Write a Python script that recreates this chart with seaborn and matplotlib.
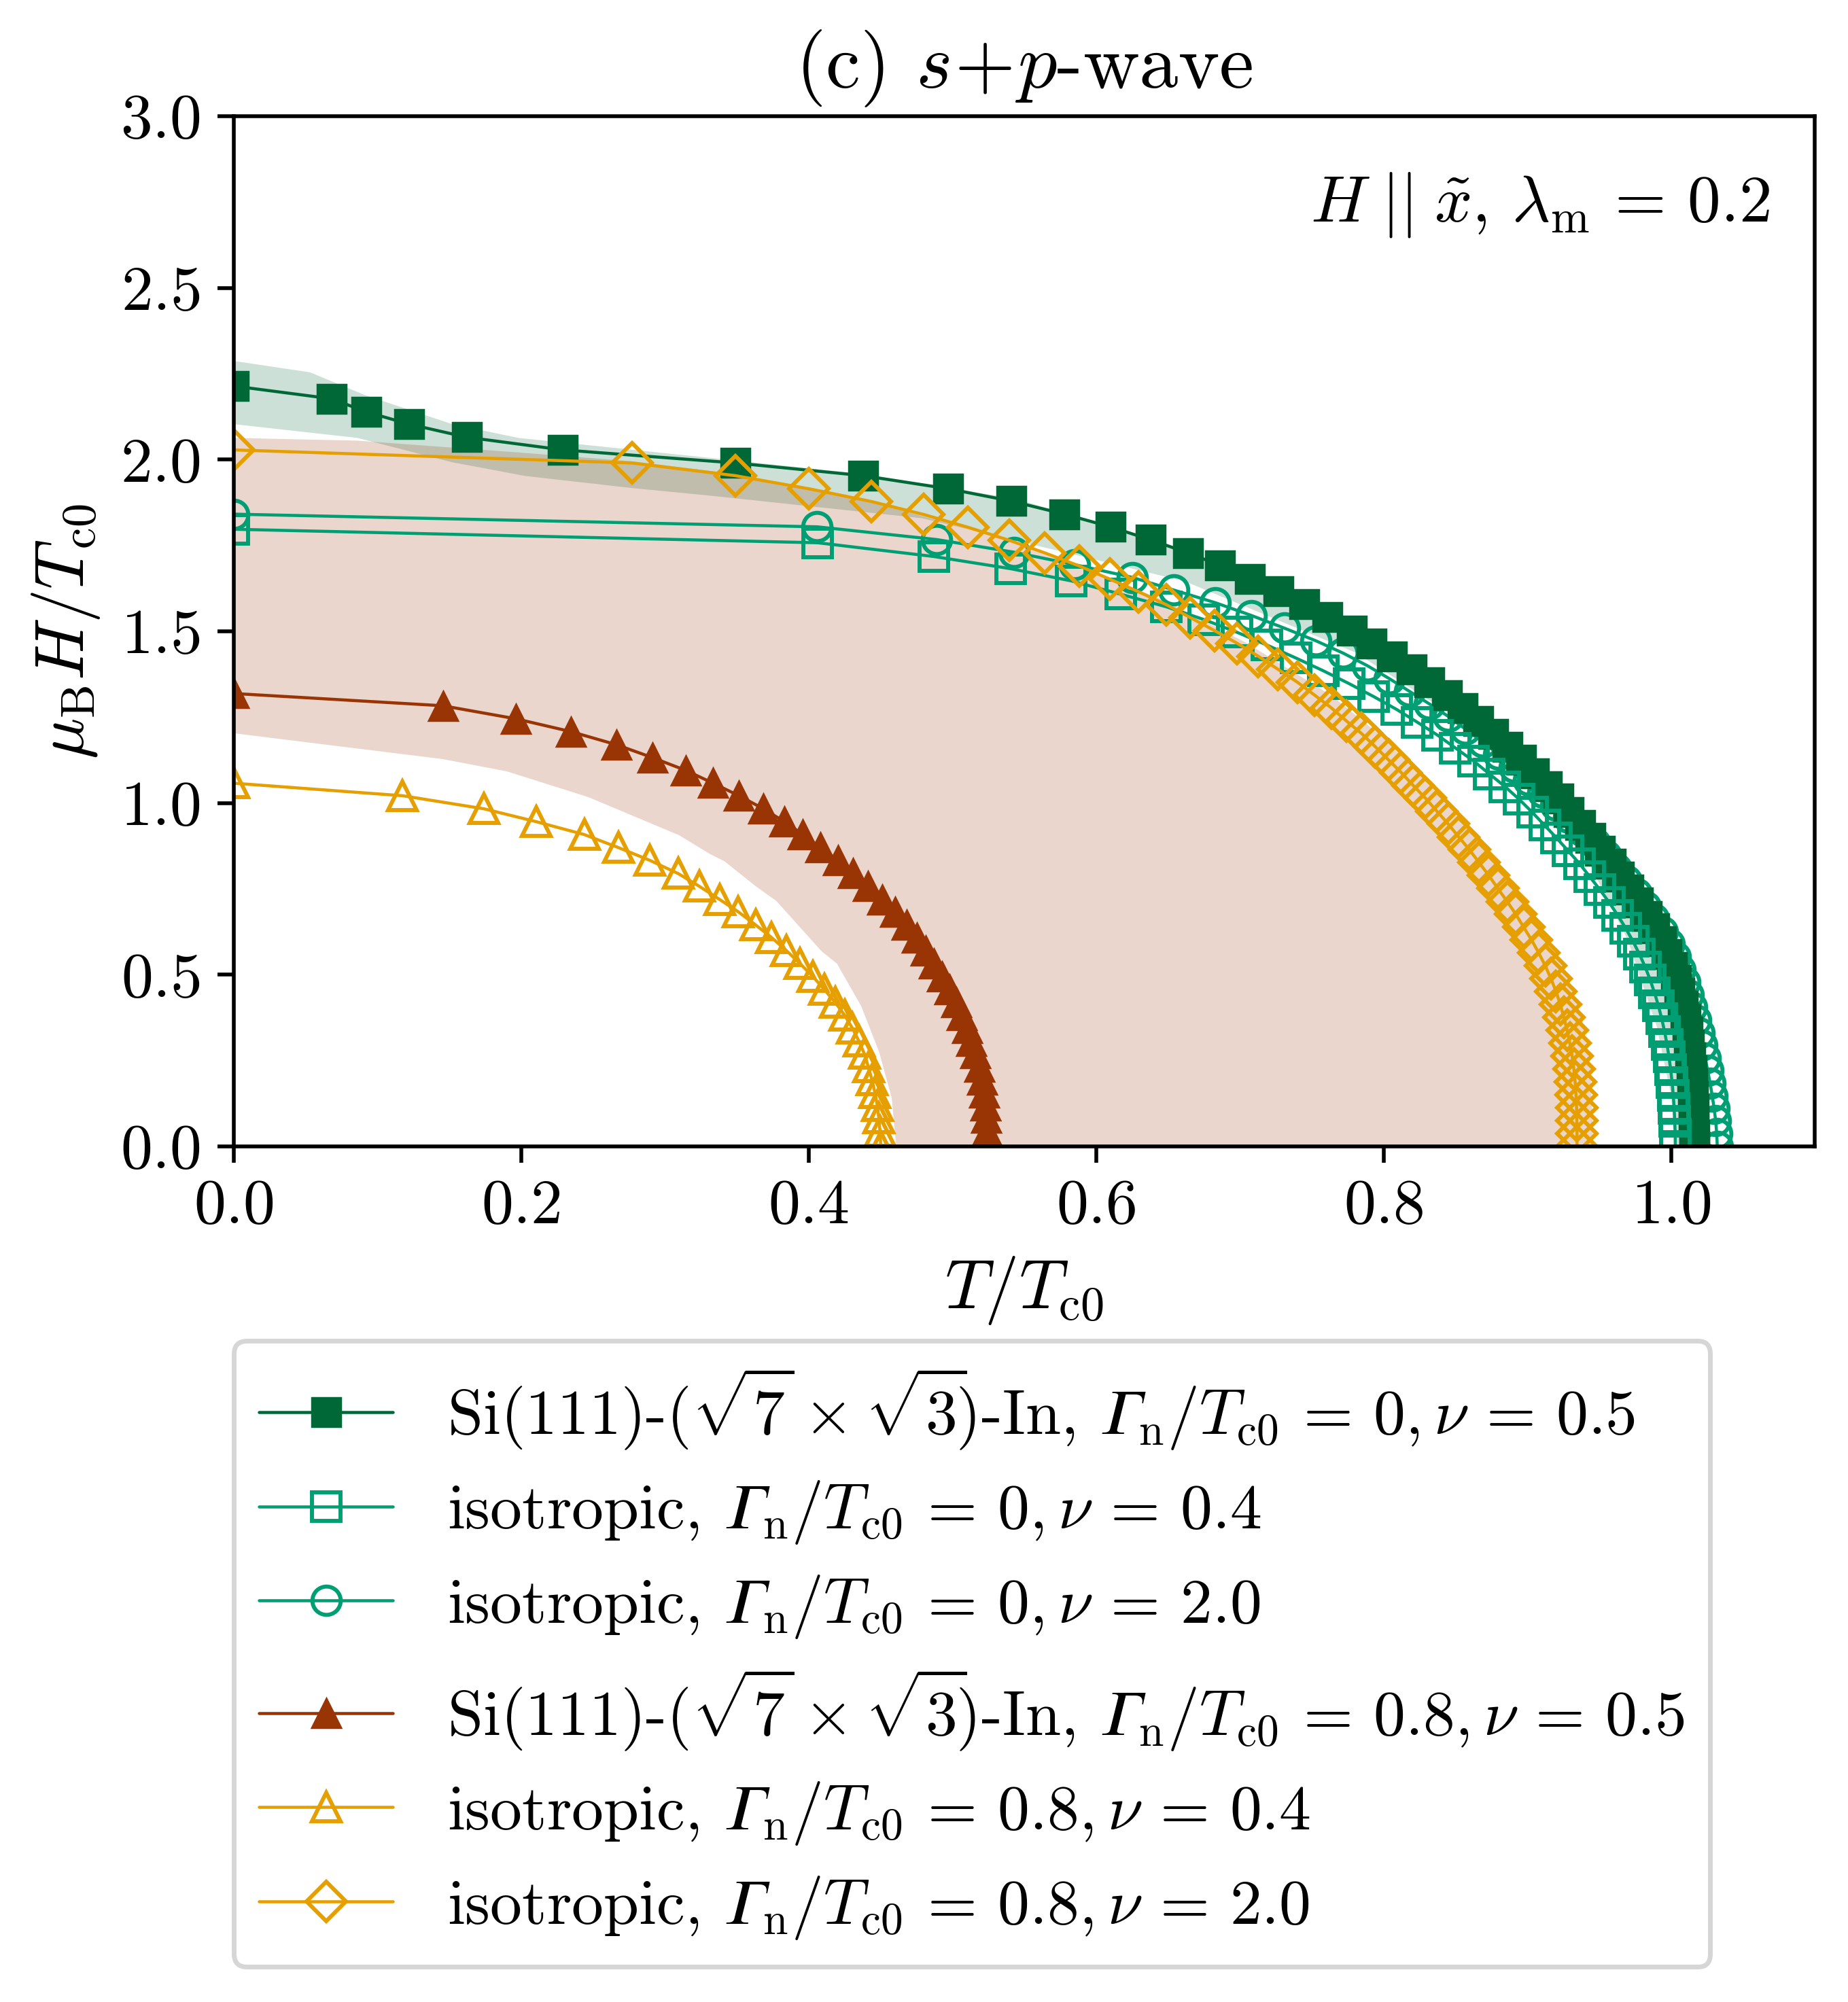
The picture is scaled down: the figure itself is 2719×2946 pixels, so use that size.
import matplotlib
matplotlib.use("Agg")
import matplotlib.pyplot as plt
import seaborn as sns

# ---------------- data ----------------
# Si(111)-(sqrt7 x sqrt3)-In, Gamma_n/Tc0 = 0, nu = 0.5
H_si0 = [2.214, 2.177, 2.139, 2.103, 2.065, 2.028, 1.990, 1.953, 1.915, 1.879,
         1.841, 1.804, 1.766, 1.728, 1.692, 1.653, 1.616, 1.578, 1.541, 1.502,
         1.465, 1.427, 1.389, 1.351, 1.314, 1.276, 1.238, 1.200, 1.163, 1.125,
         1.087, 1.049, 1.012, 0.974, 0.936, 0.898, 0.861, 0.823, 0.785, 0.747,
         0.710, 0.671, 0.634, 0.597, 0.559, 0.522, 0.484, 0.447, 0.409, 0.372,
         0.334, 0.297, 0.259, 0.222, 0.184, 0.147, 0.109, 0.072, 0.034, 0.0]
T_si0 = [0.0, 0.068, 0.092, 0.122, 0.162, 0.229, 0.349, 0.438, 0.497, 0.541,
         0.578, 0.610, 0.638, 0.664, 0.686, 0.707, 0.727, 0.745, 0.761, 0.778,
         0.7915, 0.806, 0.8195, 0.832, 0.844, 0.855, 0.866, 0.8765, 0.886, 0.8956,
         0.9047, 0.9135, 0.9216, 0.929, 0.937, 0.944, 0.9505, 0.958, 0.964, 0.9706,
         0.977, 0.983, 0.9885, 0.993, 0.997, 1.0005, 1.0035, 1.006, 1.0082, 1.010,
         1.0115, 1.0127, 1.0136, 1.0143, 1.0150, 1.0155, 1.0158, 1.0160, 1.0161, 1.0161]

# isotropic, Gamma_n/Tc0 = 0, nu = 0.4
H_iso0_04 = [1.797, 1.7576, 1.7175, 1.682, 1.6465, 1.608, 1.571, 1.534, 1.497, 1.4595,
             1.422, 1.385, 1.3475, 1.31, 1.2725, 1.235, 1.1975, 1.16, 1.1225, 1.085,
             1.0475, 1.01, 0.9725, 0.935, 0.8975, 0.86, 0.8225, 0.785, 0.7475, 0.71,
             0.6725, 0.635, 0.5975, 0.56, 0.5225, 0.485, 0.4475, 0.41, 0.3725, 0.335,
             0.2975, 0.26, 0.2225, 0.185, 0.1475, 0.11, 0.0725, 0.035, 0.0]
T_iso0_04 = [0.0, 0.4064, 0.4873, 0.5407, 0.5828, 0.617, 0.649, 0.675, 0.698, 0.719,
             0.739, 0.758, 0.776, 0.793, 0.809, 0.8235, 0.8375, 0.850, 0.8625, 0.8735,
             0.8845, 0.8945, 0.9035, 0.912, 0.9205, 0.9285, 0.9365, 0.9435, 0.9505, 0.957,
             0.963, 0.9685, 0.9735, 0.978, 0.982, 0.9855, 0.9885, 0.9912, 0.9935, 0.9955,
             0.9972, 0.9986, 0.9998, 1.0008, 1.0016, 1.0022, 1.0026, 1.0029, 1.003]

# isotropic, Gamma_n/Tc0 = 0, nu = 2.0
H_iso0_20 = [1.841, 1.804, 1.767, 1.730, 1.694, 1.657, 1.620, 1.583, 1.546, 1.509,
             1.472, 1.436, 1.399, 1.362, 1.325, 1.288, 1.252, 1.215, 1.178, 1.141,
             1.104, 1.067, 1.030, 0.994, 0.957, 0.920, 0.883, 0.846, 0.810, 0.773,
             0.736, 0.699, 0.662, 0.626, 0.589, 0.552, 0.515, 0.478, 0.442, 0.405,
             0.368, 0.331, 0.294, 0.258, 0.221, 0.184, 0.147, 0.110, 0.074, 0.037, 0.0]
T_iso0_20 = [0.0, 0.406, 0.489, 0.543, 0.585, 0.625, 0.654, 0.683, 0.708, 0.731,
             0.753, 0.772, 0.789, 0.804, 0.818, 0.832, 0.845, 0.857, 0.869, 0.880,
             0.891, 0.901, 0.911, 0.920, 0.929, 0.938, 0.947, 0.955, 0.962, 0.969,
             0.976, 0.982, 0.988, 0.994, 0.999, 1.003, 1.0065, 1.0095, 1.012, 1.0145,
             1.017, 1.0195, 1.0217, 1.0237, 1.0255, 1.0272, 1.0287, 1.0300, 1.0311, 1.0318, 1.0322]

# Si(111)-(sqrt7 x sqrt3)-In, Gamma_n/Tc0 = 0.8, nu = 0.5
H_si08 = [1.3187, 1.283, 1.245, 1.2076, 1.1694, 1.132, 1.0948, 1.0575, 1.021, 0.983,
          0.9455, 0.908, 0.870, 0.8326, 0.7944, 0.757, 0.719, 0.683, 0.645, 0.608,
          0.570, 0.532, 0.495, 0.457, 0.419, 0.382, 0.345, 0.307, 0.270, 0.232,
          0.194, 0.157, 0.119, 0.082, 0.044, 0.0]
T_si08 = [0.0, 0.1455, 0.1963, 0.2347, 0.2664, 0.2913, 0.3145, 0.3335, 0.3515, 0.3685,
          0.3830, 0.3960, 0.4082, 0.4205, 0.4310, 0.4410, 0.4510, 0.4600, 0.4683, 0.4753,
          0.4814, 0.4873, 0.4926, 0.4979, 0.5025, 0.5067, 0.5101, 0.5130, 0.5158, 0.5186,
          0.5207, 0.5222, 0.5232, 0.5236, 0.5240, 0.5241]

# isotropic, Gamma_n/Tc0 = 0.8, nu = 0.4
H_iso08_04 = [1.0575, 1.021, 0.983, 0.9455, 0.908, 0.870, 0.8326, 0.7944, 0.757, 0.719,
              0.683, 0.645, 0.608, 0.570, 0.532, 0.495, 0.457, 0.419, 0.382, 0.345,
              0.307, 0.270, 0.232, 0.194, 0.157, 0.119, 0.082, 0.044, 0.0]
T_iso08_04 = [0.0, 0.1175, 0.1740, 0.2104, 0.2438, 0.2676, 0.2896, 0.3092, 0.3240, 0.3380,
              0.3510, 0.3630, 0.3742, 0.3845, 0.3940, 0.4028, 0.4108, 0.4185, 0.4250, 0.4303,
              0.4349, 0.4387, 0.4415, 0.4440, 0.4461, 0.4478, 0.4488, 0.4496, 0.4502]

# isotropic, Gamma_n/Tc0 = 0.8, nu = 2.0
H_iso08_20 = [2.028, 1.990, 1.953, 1.915, 1.878, 1.840, 1.803, 1.765, 1.728, 1.690,
              1.652, 1.615, 1.577, 1.540, 1.502, 1.465, 1.427, 1.389, 1.352, 1.314,
              1.277, 1.239, 1.202, 1.164, 1.126, 1.089, 1.051, 1.014, 0.976, 0.939,
              0.901, 0.864, 0.826, 0.789, 0.751, 0.713, 0.676, 0.638, 0.601, 0.563,
              0.526, 0.488, 0.451, 0.413, 0.375, 0.338, 0.300, 0.263, 0.225, 0.188,
              0.150, 0.113, 0.075, 0.038, 0.0]
T_iso08_20 = [0.0, 0.277, 0.349, 0.400, 0.4434, 0.480, 0.5106, 0.5395, 0.5644, 0.5883,
              0.6094, 0.6295, 0.649, 0.6654, 0.6823, 0.6981, 0.7129, 0.7266, 0.7399, 0.752,
              0.7636, 0.7741, 0.7847, 0.7942, 0.8033, 0.8122, 0.8206, 0.8291, 0.8371, 0.8449,
              0.8523, 0.8597, 0.8665, 0.8732, 0.8795, 0.886, 0.892, 0.8975, 0.903, 0.908,
              0.9125, 0.9165, 0.920, 0.923, 0.9255, 0.9277, 0.9296, 0.9312, 0.9324, 0.9333,
              0.9339, 0.9343, 0.9345, 0.9346, 0.9346]

# shaded bands (outer edge and inner edge, (T, H))
band_green_outer_T = [0.000, 0.053, 0.091, 0.152, 0.198, 0.331, 0.440, 0.545, 0.663, 0.745,
                      0.810, 0.860, 0.905, 0.937, 0.960, 0.976, 0.992, 1.006, 1.016, 1.021, 1.022]
band_green_outer_H = [2.287, 2.254, 2.188, 2.103, 2.063, 2.005, 1.957, 1.885, 1.735, 1.585,
                      1.430, 1.280, 1.120, 0.985, 0.870, 0.780, 0.674, 0.500, 0.300, 0.120, 0.000]
band_green_inner_T = [0.000, 0.086, 0.152, 0.203, 0.277, 0.331, 0.479, 0.542, 0.595, 0.662,
                      0.7805, 0.850, 0.905, 0.940, 0.970, 0.990, 1.000, 1.003]
band_green_inner_H = [2.103, 2.063, 1.992, 1.952, 1.917, 1.895, 1.829, 1.766, 1.713, 1.645,
                      1.438, 1.250, 1.050, 0.850, 0.600, 0.350, 0.150, 0.000]

band_brown_outer_T = [0.000, 0.086, 0.200, 0.277, 0.349, 0.440, 0.540, 0.595, 0.650, 0.705,
                      0.764, 0.797, 0.824, 0.849, 0.872, 0.892, 0.910, 0.925, 0.938, 0.944, 0.946]
band_brown_outer_H = [2.063, 2.055, 2.020, 1.995, 1.958, 1.880, 1.765, 1.680, 1.585, 1.465,
                      1.312, 1.200, 1.087, 0.975, 0.862, 0.753, 0.640, 0.527, 0.376, 0.226, 0.000]
band_brown_inner_T = [0.000, 0.1455, 0.190, 0.247, 0.310, 0.331, 0.3415, 0.3627, 0.3775, 0.409,
                      0.4197, 0.4366, 0.449, 0.4578, 0.4609]
band_brown_inner_H = [1.203, 1.1276, 1.092, 1.0165, 0.9057, 0.852, 0.830, 0.759, 0.7146, 0.568,
                      0.532, 0.408, 0.275, 0.141, 0.000]

G = '\U0001D6E4'  # mathematical italic capital Gamma
si_txt = r'Si(111)-$(\sqrt{7}\times\sqrt{3}\!)$-In, '
iso_txt = 'isotropic, '
par = r'$' + G + r'_{\rm n}/T_{\rm c0}\,=\,%s, \nu\,=\,%s$'
labels = [
    si_txt + par % ('0', '0.5'),
    iso_txt + par % ('0', '0.4'),
    iso_txt + par % ('0', '2.0'),
    si_txt + par % ('0.8', '0.5'),
    iso_txt + par % ('0.8', '0.4'),
    iso_txt + par % ('0.8', '2.0'),
]

c_dkgreen = '#006837'
c_teal = '#009E73'
c_brown = '#993404'
c_orange = '#E69F00'

# ---------------- style ----------------
sns.set_style('ticks')
plt.rcParams.update({
    'font.family': 'serif',
    'font.serif': ['cmr10', 'DejaVu Serif'],
    'mathtext.fontset': 'cm',
    'axes.formatter.use_mathtext': True,
    'axes.unicode_minus': False,
    'axes.edgecolor': 'black',
    'axes.labelcolor': 'black',
    'text.color': 'black',
    'xtick.color': 'black',
    'ytick.color': 'black',
    'axes.linewidth': 0.8,
    'xtick.major.size': 3.5,
    'ytick.major.size': 3.5,
    'xtick.major.width': 0.8,
    'ytick.major.width': 0.8,
})

fig = plt.figure(figsize=(2719 / 500, 2946 / 500), dpi=500)
ax = fig.add_axes([0.1265, 0.4274, 0.8555, 0.5146])

# bands
ax.fill(band_green_outer_T + band_green_inner_T[::-1],
        band_green_outer_H + band_green_inner_H[::-1],
        color=c_dkgreen, alpha=0.2, lw=0, zorder=1)
ax.fill(band_brown_outer_T + band_brown_inner_T[::-1],
        band_brown_outer_H + band_brown_inner_H[::-1],
        color=c_brown, alpha=0.2, lw=0, zorder=1)

lw = 0.65
mew = 0.85
ms = 6

def draw(T, H, color, marker, filled, label, z):
    sns.lineplot(x=T, y=H, ax=ax, sort=False, estimator=None, color=color,
                 lw=lw, marker=marker, markersize=ms,
                 markerfacecolor=color if filled else 'none',
                 markeredgecolor=color, markeredgewidth=mew if not filled else 0.5,
                 label=label, zorder=z)

draw(T_iso0_20, H_iso0_20, c_teal, 'o', False, labels[2], 2.0)
draw(T_si0, H_si0, c_dkgreen, 's', True, labels[0], 2.1)
draw(T_iso0_04, H_iso0_04, c_teal, 's', False, labels[1], 2.2)
draw(T_si08, H_si08, c_brown, '^', True, labels[3], 2.3)
draw(T_iso08_04, H_iso08_04, c_orange, '^', False, labels[4], 2.4)
draw(T_iso08_20, H_iso08_20, c_orange, 'D', False, labels[5], 2.5)

ax.set_xlim(0, 1.1)
ax.set_ylim(0, 3.0)
ax.set_xticks([0.0, 0.2, 0.4, 0.6, 0.8, 1.0])
ax.set_yticks([0.0, 0.5, 1.0, 1.5, 2.0, 2.5, 3.0])
ax.tick_params(labelsize=13.5)
ax.set_xlabel(r'$T/T_{\rm c0}$', fontsize=14.5)
ax.set_ylabel(r'$\mu_{\rm B}H/T_{\rm c0}$', fontsize=14.5)
ax.set_title(r'(c) $s\!+\!p$-wave', fontsize=16.5)
ax.text(0.9716, 0.914, r'$H\;||\;\tilde{x}$, $\lambda_{\rm m}\,=\,0.2$',
        transform=ax.transAxes, ha='right', va='center', fontsize=14)

handles, labs = ax.get_legend_handles_labels()
order = [labs.index(l) for l in labels]
ax.legend([handles[i] for i in order], [labs[i] for i in order],
          loc='upper left', bbox_to_anchor=(0.0, -0.1887), borderaxespad=0.0,
          fontsize=13.5, frameon=True, labelspacing=0.42,
          handlelength=2.1, handletextpad=0.85)

fig.savefig('out.png', dpi=500)
